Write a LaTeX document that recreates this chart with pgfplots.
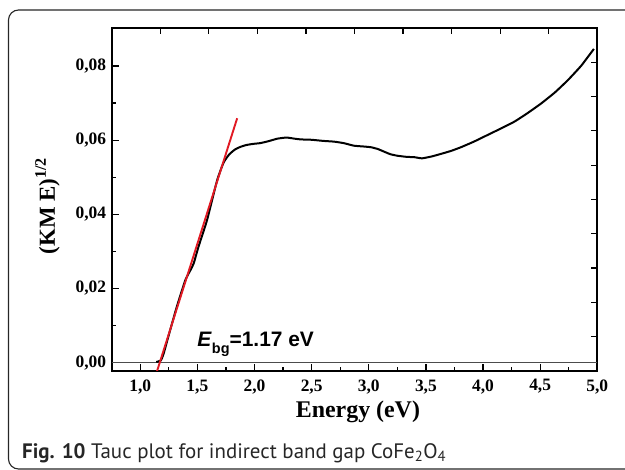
\documentclass[border=0pt]{standalone}
\usepackage{fontspec}
\setmainfont{Liberation Serif}
\newfontfamily\arialfont{Liberation Sans}
\newfontfamily\capfont{PT Sans}
\usepackage{pgfplots}
\pgfplotsset{compat=1.18}
\definecolor{fitred}{RGB}{225,25,35}
\begin{document}
\begin{tikzpicture}
\path[use as bounding box] (0bp,0bp) rectangle (625bp,470bp);
\draw[black!85, line width=1.1bp, rounded corners=10bp] (8.5bp,1bp) rectangle (645bp,460bp);
\begin{axis}[
  at={(111.7bp,99bp)}, anchor=south west,
  width=485.6bp, height=343bp, scale only axis,
  xmin=0.75, xmax=5, ymin=-0.00224, ymax=0.09024,
  scaled y ticks=false, scaled x ticks=false,
  axis line style={line width=1.8bp},
  tick style={black, line width=1.2bp},
  major tick length=7bp, minor tick length=4bp,
  tick align=inside,
  xtick pos=left, ytick pos=left,
  xtick={1,1.5,2,2.5,3,3.5,4,4.5,5},
  xticklabels={{1,0},{1,5},{2,0},{2,5},{3,0},{3,5},{4,0},{4,5},{5,0}},
  ytick={0,0.02,0.04,0.06,0.08},
  yticklabels={{0,00},{0,02},{0,04},{0,06},{0,08}},
  minor x tick num=1, minor y tick num=1,
  ticklabel style={font=\bfseries\fontsize{17.5}{17.5}\selectfont},
  xticklabel style={yshift=-5bp},
  yticklabel style={xshift=-2bp},
  xlabel={Energy (eV)},
  xlabel style={font=\bfseries\fontsize{24}{24}\selectfont, at={(axis description cs:0.507,-0.137)}, anchor=base},
  ylabel={(KM E)\textsuperscript{1/2}},
  ylabel style={font=\bfseries\fontsize{23}{23}\selectfont, at={(axis description cs:-0.132,0.481)}, anchor=center},
]
\addplot[black!70, line width=0.7bp] coordinates {(0.75,0) (5,0)};
\addplot[black, line width=2bp, smooth, tension=0.3] coordinates {
(1.14,0.0002) (1.18,0.0006) (1.205,0.0025) (1.25,0.0075) (1.32,0.0151)
(1.395,0.0223) (1.44,0.0250) (1.468,0.0268) (1.51,0.0313) (1.585,0.0385)
(1.673,0.0492) (1.73,0.0540) (1.78,0.0562) (1.83,0.0575) (1.877,0.0582)
(1.93,0.0587) (1.99,0.0590) (2.05,0.0592) (2.12,0.0597) (2.2,0.0604)
(2.28,0.0607) (2.35,0.0604) (2.404,0.0602) (2.5,0.0601) (2.6,0.0598)
(2.696,0.0596) (2.78,0.0592) (2.871,0.0585) (2.95,0.0583) (3.018,0.0581)
(3.08,0.0576) (3.134,0.0569) (3.19,0.0562) (3.25,0.0558) (3.33,0.0555)
(3.40,0.0554) (3.466,0.0551) (3.55,0.0556) (3.632,0.0563) (3.72,0.0571)
(3.807,0.0581) (3.92,0.0596) (4.04,0.0614) (4.16,0.0632) (4.275,0.0650)
(4.39,0.0673) (4.509,0.0699) (4.63,0.0729) (4.743,0.0762) (4.86,0.0801)
(4.97,0.0846)};
\addplot[fitred, line width=1.9bp] coordinates {(1.126,-0.0043) (1.848,0.0659)};
\node[anchor=base west, inner sep=0pt] at (axis cs:1.499,0.0043)
  {\arialfont\bfseries\fontsize{21}{21}\selectfont\textit{E}\raisebox{-7bp}{\fontsize{14.5}{14.5}\selectfont bg}=1.17 eV};
\end{axis}
\begin{axis}[
  at={(111.7bp,99bp)}, anchor=south west,
  width=485.6bp, height=343bp, scale only axis,
  xmin=0, xmax=10, ymin=0, ymax=10,
  axis line style={draw=none},
  tick style={black, line width=1.2bp},
  major tick length=6bp, tick align=inside,
  xtick={1,2,3,4,5,6,7,8,9}, ytick={1,2,3,4,5,6,7,8,9},
  xticklabels={}, yticklabels={},
  xtick pos=right, ytick pos=right,
]
\addplot[draw=none] coordinates {(0,0) (10,10)};
\end{axis}
\node[anchor=base west, inner sep=0pt, text=black!85] at (22bp,11.7bp)
  {\capfont\fontsize{21}{21}\selectfont\textbf{Fig. 10} Tauc plot for indirect band gap CoFe\textsubscript{2}O\textsubscript{4}};
\end{tikzpicture}
\end{document}
